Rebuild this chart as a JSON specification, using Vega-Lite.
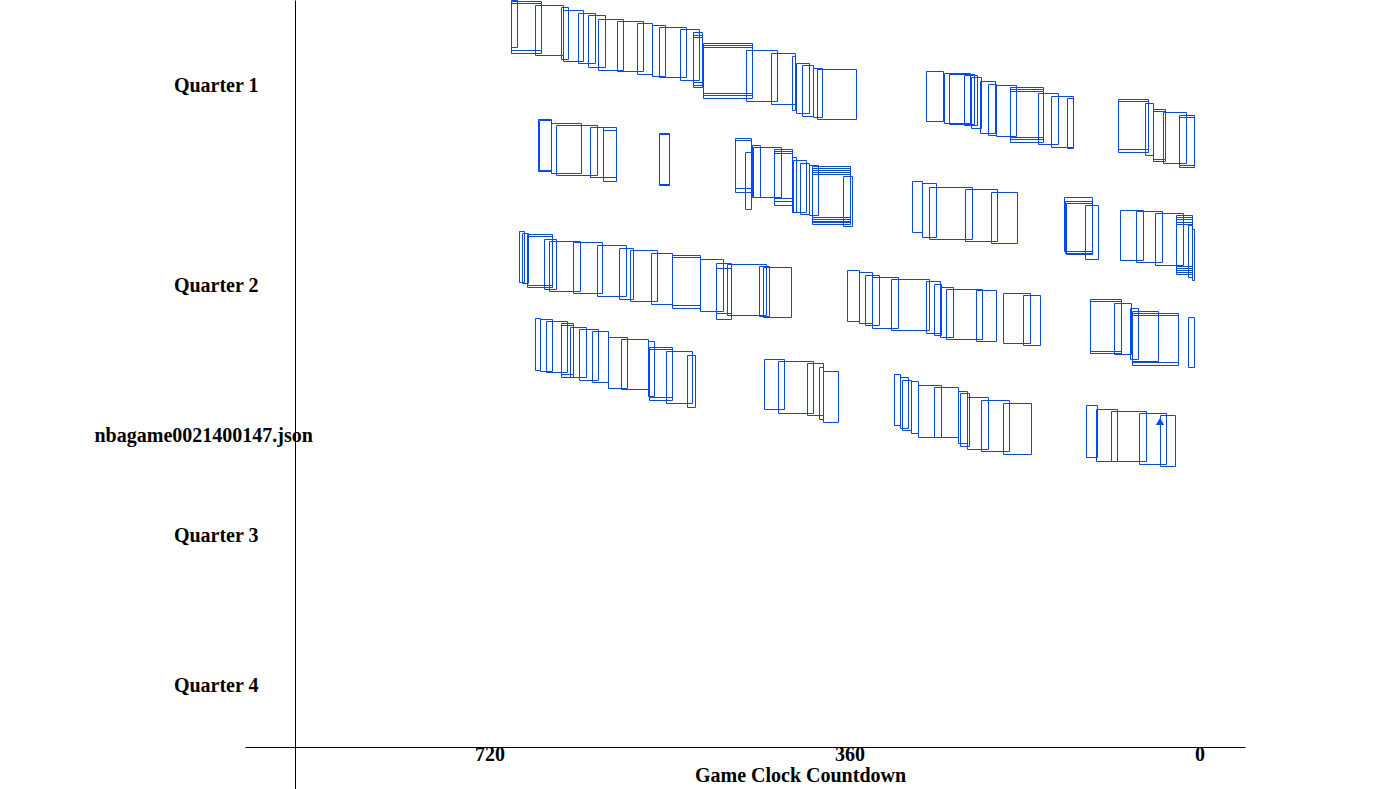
{
  "$schema": "https://vega.github.io/schema/vega-lite/v6.json",
  "autosize": "none",
  "width": 1000,
  "height": 789,
  "padding": {"left": 245, "top": 0, "right": 139, "bottom": 0},
  "background": "white",
  "config": {"view": {"stroke": null}},
  "datasets": {
    "rects": [
      {"t0":683,"t1":677,"y0":0,"y1":47},{"t0":683,"t1":653,"y0":1,"y1":50},{"t0":683,"t1":653,"y0":3,"y1":53},
      {"t0":659,"t1":631,"y0":5,"y1":55},{"t0":633,"t1":626,"y0":7,"y1":59},{"t0":631,"t1":611,"y0":10,"y1":61},
      {"t0":616,"t1":599,"y0":13,"y1":63},{"t0":606,"t1":589,"y0":15,"y1":67},{"t0":596,"t1":571,"y0":19,"y1":70},
      {"t0":577,"t1":551,"y0":21,"y1":71},{"t0":557,"t1":542,"y0":23,"y1":74},{"t0":542,"t1":529,"y0":25,"y1":76},
      {"t0":535,"t1":508,"y0":27,"y1":77},{"t0":514,"t1":495,"y0":29,"y1":80},{"t0":501,"t1":492,"y0":32,"y1":82},
      {"t0":501,"t1":492,"y0":35,"y1":85},{"t0":501,"t1":492,"y0":37,"y1":87},{"t0":491,"t1":442,"y0":43,"y1":93},
      {"t0":491,"t1":442,"y0":45,"y1":95},{"t0":491,"t1":442,"y0":47,"y1":98},{"t0":448,"t1":417,"y0":50,"y1":101},
      {"t0":423,"t1":399,"y0":53,"y1":104},{"t0":402,"t1":399,"y0":56,"y1":110},{"t0":398,"t1":385,"y0":63,"y1":113},
      {"t0":392,"t1":381,"y0":65,"y1":116},{"t0":381,"t1":372,"y0":68,"y1":117},{"t0":377,"t1":338,"y0":69,"y1":119},

      {"t0":656,"t1":643,"y0":119,"y1":171},{"t0":655,"t1":643,"y0":120,"y1":170},{"t0":643,"t1":613,"y0":123,"y1":173},
      {"t0":638,"t1":597,"y0":125,"y1":175},{"t0":604,"t1":591,"y0":127,"y1":177},{"t0":591,"t1":578,"y0":127,"y1":177},
      {"t0":591,"t1":578,"y0":130,"y1":181},
      {"t0":535,"t1":525,"y0":133,"y1":184},{"t0":535,"t1":525,"y0":134,"y1":185},

      {"t0":459,"t1":443,"y0":138,"y1":188},{"t0":459,"t1":443,"y0":140,"y1":192},{"t0":449,"t1":443,"y0":152,"y1":209},
      {"t0":442,"t1":434,"y0":145,"y1":197},{"t0":441,"t1":413,"y0":147,"y1":197},{"t0":420,"t1":402,"y0":149,"y1":198},
      {"t0":420,"t1":402,"y0":151,"y1":201},{"t0":420,"t1":402,"y0":153,"y1":205},{"t0":402,"t1":398,"y0":157,"y1":212},
      {"t0":401,"t1":388,"y0":160,"y1":212},{"t0":394,"t1":385,"y0":163,"y1":214},{"t0":385,"t1":376,"y0":165,"y1":215},
      {"t0":382,"t1":344,"y0":166,"y1":217},{"t0":382,"t1":344,"y0":168,"y1":219},{"t0":382,"t1":344,"y0":170,"y1":221},
      {"t0":382,"t1":344,"y0":172,"y1":222},{"t0":382,"t1":344,"y0":174,"y1":224},{"t0":351,"t1":342,"y0":176,"y1":226},

      {"t0":268,"t1":251,"y0":71,"y1":121},{"t0":250,"t1":224,"y0":73,"y1":123},{"t0":245,"t1":220,"y0":74,"y1":124},
      {"t0":230,"t1":217,"y0":75,"y1":125},{"t0":223,"t1":213,"y0":77,"y1":128},{"t0":214,"t1":199,"y0":81,"y1":133},
      {"t0":206,"t1":198,"y0":84,"y1":135},{"t0":198,"t1":178,"y0":85,"y1":136},{"t0":184,"t1":151,"y0":87,"y1":137},
      {"t0":184,"t1":151,"y0":89,"y1":139},{"t0":184,"t1":151,"y0":91,"y1":142},{"t0":156,"t1":136,"y0":93,"y1":144},
      {"t0":143,"t1":121,"y0":96,"y1":147},{"t0":127,"t1":121,"y0":98,"y1":148},

      {"t0":76,"t1":46,"y0":99,"y1":149},{"t0":76,"t1":46,"y0":101,"y1":152},{"t0":49,"t1":41,"y0":103,"y1":155},
      {"t0":41,"t1":29,"y0":109,"y1":159},{"t0":41,"t1":29,"y0":111,"y1":161},{"t0":31,"t1":8,"y0":112,"y1":163},
      {"t0":15,"t1":0,"y0":115,"y1":165},{"t0":15,"t1":0,"y0":117,"y1":167},

      {"t0":282,"t1":272,"y0":181,"y1":232},{"t0":272,"t1":258,"y0":183,"y1":237},{"t0":265,"t1":222,"y0":187,"y1":239},
      {"t0":229,"t1":197,"y0":189,"y1":241},{"t0":203,"t1":177,"y0":192,"y1":243},

      {"t0":130,"t1":102,"y0":197,"y1":251},{"t0":129,"t1":102,"y0":201,"y1":253},{"t0":128,"t1":102,"y0":203,"y1":254},
      {"t0":109,"t1":96,"y0":205,"y1":259},

      {"t0":74,"t1":51,"y0":210,"y1":260},{"t0":58,"t1":32,"y0":211,"y1":262},{"t0":39,"t1":11,"y0":213,"y1":265},
      {"t0":18,"t1":2,"y0":215,"y1":266},{"t0":18,"t1":2,"y0":217,"y1":268},{"t0":18,"t1":2,"y0":219,"y1":270},
      {"t0":18,"t1":2,"y0":222,"y1":272},{"t0":18,"t1":2,"y0":224,"y1":274},{"t0":6,"t1":2,"y0":225,"y1":277},
      {"t0":2,"t1":0,"y0":229,"y1":280},

      {"t0":675,"t1":670,"y0":231,"y1":282},{"t0":672,"t1":666,"y0":233,"y1":283},{"t0":667,"t1":642,"y0":234,"y1":285},
      {"t0":667,"t1":642,"y0":236,"y1":287},{"t0":650,"t1":638,"y0":239,"y1":289},{"t0":645,"t1":614,"y0":241,"y1":291},
      {"t0":621,"t1":592,"y0":242,"y1":293},{"t0":597,"t1":568,"y0":245,"y1":296},{"t0":575,"t1":561,"y0":248,"y1":299},
      {"t0":564,"t1":537,"y0":250,"y1":301},{"t0":543,"t1":522,"y0":253,"y1":304},{"t0":522,"t1":494,"y0":255,"y1":305},
      {"t0":522,"t1":494,"y0":257,"y1":308},{"t0":494,"t1":471,"y0":259,"y1":311},{"t0":478,"t1":463,"y0":263,"y1":313},
      {"t0":478,"t1":463,"y0":268,"y1":319},{"t0":467,"t1":428,"y0":264,"y1":315},{"t0":435,"t1":425,"y0":266,"y1":316},
      {"t0":431,"t1":403,"y0":267,"y1":317},

      {"t0":347,"t1":335,"y0":270,"y1":321},{"t0":335,"t1":322,"y0":272,"y1":323},{"t0":329,"t1":315,"y0":275,"y1":325},
      {"t0":322,"t1":296,"y0":277,"y1":328},{"t0":303,"t1":265,"y0":279,"y1":330},{"t0":268,"t1":254,"y0":281,"y1":333},
      {"t0":260,"t1":253,"y0":284,"y1":335},{"t0":254,"t1":241,"y0":287,"y1":337},{"t0":248,"t1":212,"y0":289,"y1":339},
      {"t0":218,"t1":198,"y0":290,"y1":341},{"t0":191,"t1":164,"y0":293,"y1":343},{"t0":171,"t1":154,"y0":295,"y1":345},

      {"t0":104,"t1":73,"y0":299,"y1":351},{"t0":104,"t1":73,"y0":301,"y1":353},{"t0":80,"t1":63,"y0":303,"y1":354},
      {"t0":64,"t1":56,"y0":308,"y1":359},{"t0":62,"t1":36,"y0":311,"y1":361},{"t0":62,"t1":16,"y0":313,"y1":362},
      {"t0":62,"t1":16,"y0":315,"y1":365},{"t0":6,"t1":0,"y0":317,"y1":367},

      {"t0":659,"t1":654,"y0":318,"y1":370},{"t0":654,"t1":642,"y0":319,"y1":371},{"t0":648,"t1":627,"y0":321,"y1":372},
      {"t0":633,"t1":621,"y0":323,"y1":374},{"t0":633,"t1":621,"y0":325,"y1":377},{"t0":624,"t1":608,"y0":327,"y1":377},
      {"t0":615,"t1":596,"y0":329,"y1":380},{"t0":602,"t1":586,"y0":331,"y1":382},{"t0":586,"t1":567,"y0":337,"y1":388},
      {"t0":573,"t1":546,"y0":339,"y1":389},{"t0":546,"t1":540,"y0":341,"y1":396},{"t0":545,"t1":522,"y0":347,"y1":397},
      {"t0":545,"t1":522,"y0":349,"y1":400},{"t0":528,"t1":502,"y0":351,"y1":403},{"t0":507,"t1":499,"y0":355,"y1":407},

      {"t0":430,"t1":410,"y0":359,"y1":409},{"t0":416,"t1":381,"y0":361,"y1":413},{"t0":387,"t1":371,"y0":363,"y1":415},
      {"t0":375,"t1":371,"y0":367,"y1":419},{"t0":371,"t1":356,"y0":371,"y1":422},

      {"t0":300,"t1":294,"y0":374,"y1":425},{"t0":294,"t1":286,"y0":377,"y1":428},{"t0":292,"t1":283,"y0":380,"y1":430},
      {"t0":283,"t1":276,"y0":381,"y1":433},{"t0":276,"t1":253,"y0":385,"y1":437},{"t0":260,"t1":236,"y0":387,"y1":437},
      {"t0":236,"t1":227,"y0":391,"y1":443},{"t0":234,"t1":225,"y0":393,"y1":446},{"t0":227,"t1":206,"y0":397,"y1":449},
      {"t0":213,"t1":185,"y0":400,"y1":451},{"t0":191,"t1":163,"y0":403,"y1":454},

      {"t0":108,"t1":97,"y0":405,"y1":457},{"t0":98,"t1":77,"y0":409,"y1":461},{"t0":83,"t1":48,"y0":411,"y1":461},
      {"t0":55,"t1":28,"y0":413,"y1":464},{"t0":34,"t1":19,"y0":415,"y1":466}
    ],
    "marker": [{"t": 34.5, "y": 421}]
  },
  "layer": [
    {
      "data": {"name": "rects"},
      "mark": {"type": "rect", "filled": false, "color": "#0047ff", "strokeWidth": 1},
      "encoding": {
        "x": {
          "field": "t0", "type": "quantitative",
          "scale": {"domain": [-50.5, 949.5], "reverse": true, "nice": false, "zero": false},
          "axis": {
            "values": [720, 360, 0],
            "offset": -42,
            "ticks": false,
            "grid": false,
            "domainColor": "black",
            "domainWidth": 1,
            "labelAlign": "left",
            "labelBaseline": "alphabetic",
            "labelPadding": 13,
            "labelFont": "Liberation Serif",
            "labelFontWeight": "bold",
            "labelFontSize": 20,
            "labelColor": "black",
            "labelFlush": false,
            "labelOverlap": false,
            "title": "Game Clock Countdown",
            "titleFont": "Liberation Serif",
            "titleFontWeight": "bold",
            "titleFontSize": 20,
            "titleColor": "black",
            "titleX": 555,
            "titleY": 34,
            "titleAlign": "center",
            "titleBaseline": "alphabetic"
          }
        },
        "x2": {"field": "t1"},
        "y": {
          "field": "y0", "type": "quantitative",
          "scale": {"domain": [-0.5, 788.5], "reverse": true, "nice": false, "zero": false},
          "axis": {
            "values": [91, 291, 541, 691],
            "labelExpr": "datum.value == 91 ? 'Quarter 1' : datum.value == 291 ? 'Quarter 2' : datum.value == 541 ? 'Quarter 3' : 'Quarter 4'",
            "offset": -50,
            "ticks": false,
            "grid": false,
            "domainColor": "black",
            "domainWidth": 1,
            "labelAlign": "right",
            "labelBaseline": "alphabetic",
            "labelPadding": 37,
            "labelFont": "Liberation Serif",
            "labelFontWeight": "bold",
            "labelFontSize": 20,
            "labelColor": "black",
            "labelFlush": false,
            "labelOverlap": false,
            "labelBound": false,
            "title": "nbagame0021400147.json",
            "titleFont": "Liberation Serif",
            "titleFontWeight": "bold",
            "titleFontSize": 20,
            "titleColor": "black",
            "titleAngle": 0,
            "titleX": -201,
            "titleY": 441,
            "titleAlign": "left",
            "titleBaseline": "alphabetic"
          }
        },
        "y2": {"field": "y1"}
      }
    },
    {
      "data": {"name": "marker"},
      "mark": {"type": "point", "shape": "triangle-up", "filled": true, "color": "#0047ff", "size": 70, "opacity": 1},
      "encoding": {
        "x": {"field": "t", "type": "quantitative"},
        "y": {"field": "y", "type": "quantitative"}
      }
    }
  ]
}
